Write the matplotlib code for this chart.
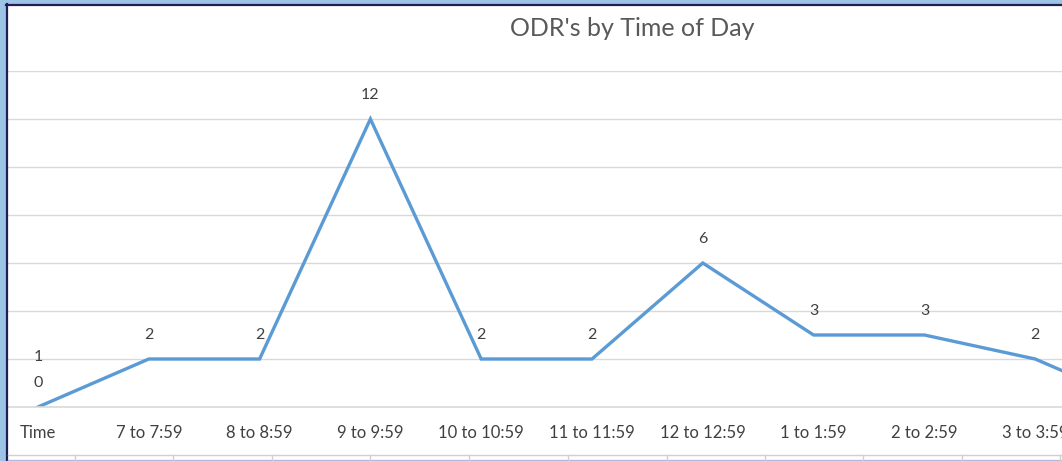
import matplotlib
matplotlib.use("Agg")
import matplotlib.pyplot as plt
from matplotlib.lines import Line2D
from matplotlib.patches import Rectangle

categories = ["Time", "7 to 7:59", "8 to 8:59", "9 to 9:59", "10 to 10:59",
              "11 to 11:59", "12 to 12:59", "1 to 1:59", "2 to 2:59",
              "3 to 3:59", "4 to 4:59"]
values = [0, 2, 2, 12, 2, 2, 6, 3, 3, 2, 0]
extra_label_text = "1"
title = "ODR's by Time of Day"
yticks = [0, 2, 4, 6, 8, 10, 12, 14]

W, H = 1062, 461
fig = plt.figure(figsize=(W / 100, H / 100), dpi=100)
fig.patch.set_facecolor("white")

font = ["Lato", "DejaVu Sans"]

# plot area in pixels
left_px, right_px = 8, 1062
top_px, bot_px = 71, 407
ax = fig.add_axes([left_px / W, (H - bot_px) / H, (right_px - left_px) / W, (bot_px - top_px) / H])
x0_px, step_px = 38, 110.8
for name, s in ax.spines.items():
    s.set_visible(name == "bottom")
ax.spines["bottom"].set_color("#D9D9D9")
ax.spines["bottom"].set_linewidth(1.2)
ax.set_yticks(yticks)
ax.yaxis.grid(True, color="#D9D9D9", linewidth=1.0)
ax.set_axisbelow(True)
ax.tick_params(axis="y", length=0, labelleft=False)
xs = list(range(len(categories)))
ax.set_xticks(xs)
ax.set_xticklabels(categories, fontsize=12, color="#404040", fontfamily=font)
ax.tick_params(axis="x", length=0, pad=13)

ax.plot(xs, values, color="#5B9BD5", linewidth=2.4, solid_joinstyle="miter", clip_on=True)
for x, v in zip(xs, values):
    ax.annotate(str(v), (x, v), xytext=(0, 17), textcoords="offset points",
                ha="center", va="center", fontsize=11.5, color="#404040", fontfamily=font,
                annotation_clip=True)
ax.annotate(extra_label_text, (0, values[0]), xytext=(0, 36), textcoords="offset points",
            ha="center", va="center", fontsize=11.5, color="#404040", fontfamily=font)

ax.set_xlim((left_px - x0_px) / step_px, (right_px - x0_px) / step_px)
ax.set_ylim(0, 14)

fig.text(632 / W, 1 - 29 / H, title, ha="center", va="center", fontsize=18,
         color="#595959", fontfamily=font)

# frame decorations (selection border / sheet grid)
fig.patches.append(Rectangle((0, 0), 6 / W, 1, transform=fig.transFigure,
                             facecolor="#9DC3E6", edgecolor="none", zorder=5))
fig.patches.append(Rectangle((0, 1 - 4 / H), 1, 4 / H, transform=fig.transFigure,
                             facecolor="#9DC3E6", edgecolor="none", zorder=5))
fig.lines.append(Line2D([7 / W, 7 / W], [0, 1 - 4 / H], transform=fig.transFigure,
                        color="#1F1F55", linewidth=1.6, zorder=6))
fig.lines.append(Line2D([6 / W, 1], [1 - 5.5 / H, 1 - 5.5 / H], transform=fig.transFigure,
                        color="#1F1F55", linewidth=1.6, zorder=6))
fig.lines.append(Line2D([8 / W, 1], [1 - 455 / H, 1 - 455 / H], transform=fig.transFigure,
                        color="#D0D0D0", linewidth=1.0, zorder=6))
fig.lines.append(Line2D([8 / W, 1], [1 - 460 / H, 1 - 460 / H], transform=fig.transFigure,
                        color="#B8B8D8", linewidth=1.0, zorder=6))
for cx in [75, 173, 272, 370, 469, 568, 667, 765, 863, 962, 1060]:
    fig.lines.append(Line2D([cx / W, cx / W], [1 - 461 / H, 1 - 455 / H], transform=fig.transFigure,
                            color="#D0D0D0", linewidth=1.0, zorder=6))

fig.savefig("out.png", dpi=100)
